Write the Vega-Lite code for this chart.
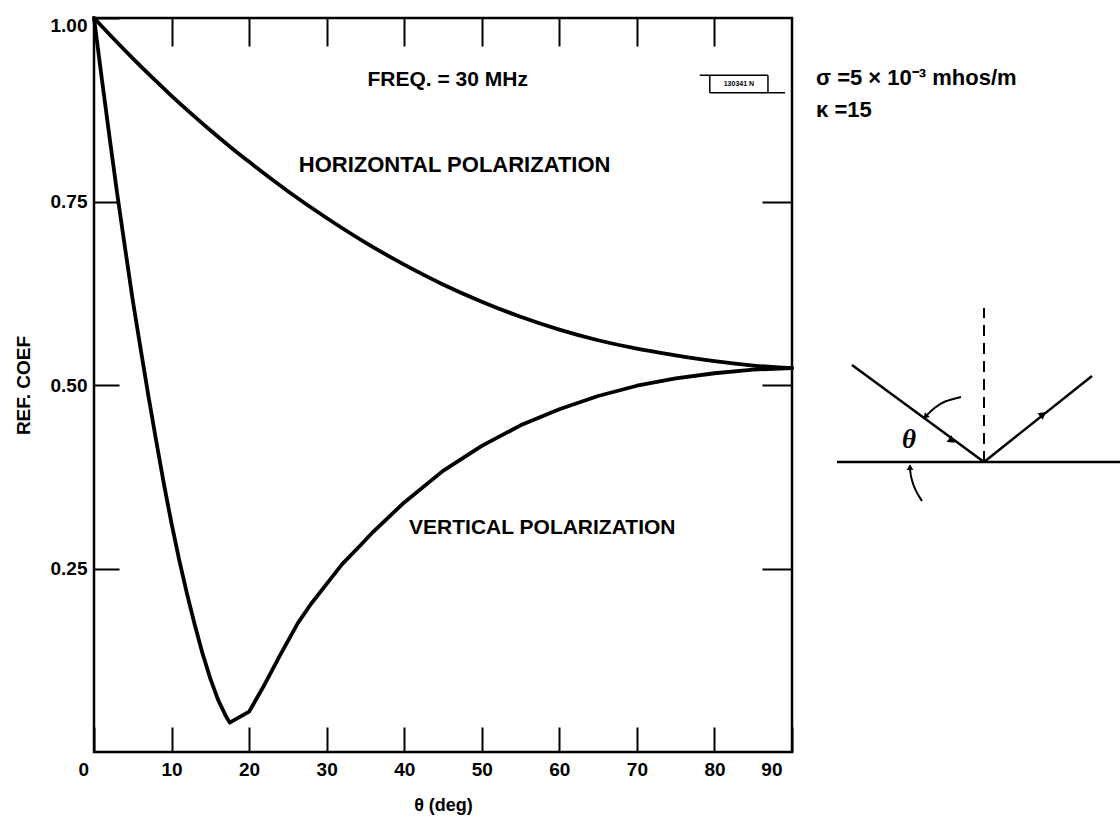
{
  "$schema": "https://vega.github.io/schema/vega-lite/v6.json",
  "padding": {"left": 12, "top": 14, "right": 0, "bottom": 0},
  "background": "white",
  "spacing": 3,
  "config": {
    "font": "Liberation Sans",
    "view": {"stroke": null},
    "axis": {"grid": false, "domain": false, "tickColor": "black", "tickWidth": 2, "labelColor": "black", "titleColor": "black", "labelFont": "Liberation Sans", "titleFont": "Liberation Sans", "labelFontWeight": "bold", "titleFontWeight": "bold"}
  },
  "datasets": {
    "curves": [
      {"pol": "H", "theta": 0, "r": 1.0},
      {"pol": "H", "theta": 2.5, "r": 0.972},
      {"pol": "H", "theta": 5, "r": 0.945},
      {"pol": "H", "theta": 7.5, "r": 0.919},
      {"pol": "H", "theta": 10, "r": 0.894},
      {"pol": "H", "theta": 12.5, "r": 0.87},
      {"pol": "H", "theta": 15, "r": 0.847},
      {"pol": "H", "theta": 17.5, "r": 0.825},
      {"pol": "H", "theta": 20, "r": 0.804},
      {"pol": "H", "theta": 25, "r": 0.764},
      {"pol": "H", "theta": 30, "r": 0.7275},
      {"pol": "H", "theta": 35, "r": 0.694},
      {"pol": "H", "theta": 40, "r": 0.664},
      {"pol": "H", "theta": 45, "r": 0.637},
      {"pol": "H", "theta": 50, "r": 0.6135},
      {"pol": "H", "theta": 55, "r": 0.593},
      {"pol": "H", "theta": 60, "r": 0.5755},
      {"pol": "H", "theta": 65, "r": 0.561},
      {"pol": "H", "theta": 70, "r": 0.5495},
      {"pol": "H", "theta": 75, "r": 0.5405},
      {"pol": "H", "theta": 80, "r": 0.5325},
      {"pol": "H", "theta": 85, "r": 0.5265},
      {"pol": "H", "theta": 90, "r": 0.523},
      {"pol": "V", "theta": 0, "r": 1.0},
      {"pol": "V", "theta": 1, "r": 0.918},
      {"pol": "V", "theta": 2, "r": 0.838},
      {"pol": "V", "theta": 3, "r": 0.76},
      {"pol": "V", "theta": 4, "r": 0.687},
      {"pol": "V", "theta": 5, "r": 0.615},
      {"pol": "V", "theta": 6, "r": 0.55},
      {"pol": "V", "theta": 7, "r": 0.486},
      {"pol": "V", "theta": 8, "r": 0.425},
      {"pol": "V", "theta": 9, "r": 0.366},
      {"pol": "V", "theta": 10, "r": 0.311},
      {"pol": "V", "theta": 11, "r": 0.261},
      {"pol": "V", "theta": 12, "r": 0.215},
      {"pol": "V", "theta": 13, "r": 0.173},
      {"pol": "V", "theta": 14, "r": 0.134},
      {"pol": "V", "theta": 15, "r": 0.1},
      {"pol": "V", "theta": 16, "r": 0.071},
      {"pol": "V", "theta": 17, "r": 0.049},
      {"pol": "V", "theta": 17.5, "r": 0.04},
      {"pol": "V", "theta": 20, "r": 0.055},
      {"pol": "V", "theta": 22, "r": 0.092},
      {"pol": "V", "theta": 24, "r": 0.132},
      {"pol": "V", "theta": 26.3, "r": 0.176},
      {"pol": "V", "theta": 28, "r": 0.202},
      {"pol": "V", "theta": 30, "r": 0.229},
      {"pol": "V", "theta": 32, "r": 0.256},
      {"pol": "V", "theta": 34.3, "r": 0.281},
      {"pol": "V", "theta": 36, "r": 0.3},
      {"pol": "V", "theta": 38, "r": 0.32},
      {"pol": "V", "theta": 40, "r": 0.34},
      {"pol": "V", "theta": 45, "r": 0.383},
      {"pol": "V", "theta": 50, "r": 0.417},
      {"pol": "V", "theta": 55, "r": 0.445},
      {"pol": "V", "theta": 60, "r": 0.467},
      {"pol": "V", "theta": 65, "r": 0.485},
      {"pol": "V", "theta": 70, "r": 0.499},
      {"pol": "V", "theta": 75, "r": 0.509},
      {"pol": "V", "theta": 80, "r": 0.516},
      {"pol": "V", "theta": 85, "r": 0.521},
      {"pol": "V", "theta": 90, "r": 0.523}
    ],
    "notes": [
      {"label": "FREQ. = 30 MHz", "theta": 45.6, "r": 0.916},
      {"label": "VERTICAL  POLARIZATION", "theta": 57.8, "r": 0.305}
    ],
    "notesH": [
      {"label": "HORIZONTAL POLARIZATION", "theta": 46.5, "r": 0.80}
    ],
    "stamp": [
      {"theta": 78.1, "theta2": 86.9, "r": 0.922, "r2": 0.922},
      {"theta": 79.4, "theta2": 89.1, "r": 0.898, "r2": 0.898},
      {"theta": 79.4, "theta2": 79.4, "r": 0.922, "r2": 0.898},
      {"theta": 86.9, "theta2": 86.9, "r": 0.922, "r2": 0.898}
    ],
    "stampText": [
      {"label": "130341 N", "theta": 83.15, "r": 0.910}
    ],
    "rays": [
      {"id": "surface", "u": 38, "u2": 322, "w": 290, "w2": 290},
      {"id": "incident", "u": 53, "u2": 185, "w": 387, "w2": 290},
      {"id": "reflected", "u": 185, "u2": 293, "w": 290, "w2": 376}
    ],
    "normal": [
      {"u": 185, "u2": 185, "w": 290, "w2": 444}
    ],
    "bends": [
      {"arc": "a", "i": 0, "u": 162, "w": 355},
      {"arc": "a", "i": 1, "u": 145, "w": 351},
      {"arc": "a", "i": 2, "u": 135, "w": 344},
      {"arc": "a", "i": 3, "u": 128, "w": 337},
      {"arc": "b", "i": 0, "u": 123, "w": 251},
      {"arc": "b", "i": 1, "u": 116, "w": 262},
      {"arc": "b", "i": 2, "u": 112, "w": 274},
      {"arc": "b", "i": 3, "u": 111, "w": 283}
    ],
    "heads": [
      {"id": "incident", "u": 152, "w": 312},
      {"id": "reflected", "u": 243, "w": 337},
      {"id": "a", "u": 127, "w": 336},
      {"id": "b", "u": 111, "w": 284}
    ],
    "params": [
      {"label": "σ =5 × 10⁻³ mhos/m", "u": 17, "w": 674},
      {"label": "κ =15", "u": 17, "w": 642}
    ],
    "angleLabel": [
      {"label": "θ", "u": 110, "w": 312}
    ]
  },
  "hconcat": [
    {
      "width": 698,
      "height": 734,
      "view": {"stroke": "black", "strokeWidth": 2.5},
      "layer": [
        {
          "data": {"name": "curves"},
          "transform": [{"filter": "datum.pol == 'H'"}],
          "mark": {"type": "line", "color": "black", "strokeWidth": 3.8, "strokeJoin": "round", "strokeCap": "round", "interpolate": "monotone"},
          "encoding": {
            "x": {
              "field": "theta", "type": "quantitative",
              "scale": {"domain": [0, 90], "nice": false, "zero": false},
              "axis": {
                "orient": "bottom",
                "values": [0, 10, 20, 30, 40, 50, 60, 70, 80, 90],
                "tickSize": -25, "labelPadding": 33, "labelFontSize": 19,
                "labelOffset": {"condition": [{"test": "datum.value == 0", "value": -16}, {"test": "datum.value == 90", "value": -10}], "value": 0},
                "title": "θ (deg)", "titleFontSize": 18, "titlePadding": 17
              }
            },
            "y": {
              "field": "r", "type": "quantitative",
              "scale": {"domain": [0, 1], "nice": false},
              "axis": {
                "orient": "left",
                "values": [0.25, 0.5, 0.75, 1],
                "format": ".2f",
                "tickSize": -25, "labelPadding": 32, "labelFontSize": 19,
                "labelOffset": {"condition": {"test": "datum.value == 1", "value": 7}, "value": 0},
                "title": "REF. COEF", "titleFontSize": 19, "titlePadding": 17
              }
            },
            "order": {"field": "theta", "type": "quantitative"}
          }
        },
        {
          "data": {"name": "curves"},
          "transform": [{"filter": "datum.pol == 'V'"}],
          "mark": {"type": "line", "color": "black", "strokeWidth": 3.8, "strokeJoin": "round", "strokeCap": "round"},
          "encoding": {
            "x": {"field": "theta", "type": "quantitative", "axis": null},
            "y": {"field": "r", "type": "quantitative", "axis": null},
            "order": {"field": "theta", "type": "quantitative"}
          }
        },
        {
          "data": {"name": "notes"},
          "mark": {"type": "text", "fontSize": 21, "fontWeight": "bold", "color": "black", "font": "Liberation Sans"},
          "encoding": {
            "x": {
              "field": "theta", "type": "quantitative",
              "axis": {"orient": "top", "values": [10, 20, 30, 40, 50, 60, 70, 80], "tickSize": -28, "labels": false, "title": null}
            },
            "y": {
              "field": "r", "type": "quantitative",
              "axis": {"orient": "right", "values": [0.25, 0.5, 0.75], "tickSize": -30, "labels": false, "title": null}
            },
            "text": {"field": "label", "type": "nominal"}
          }
        },
        {
          "data": {"name": "notesH"},
          "mark": {"type": "text", "fontSize": 22, "fontWeight": "bold", "color": "black", "font": "Liberation Sans"},
          "encoding": {
            "x": {"field": "theta", "type": "quantitative", "axis": null},
            "y": {"field": "r", "type": "quantitative", "axis": null},
            "text": {"field": "label", "type": "nominal"}
          }
        },
        {
          "data": {"name": "stamp"},
          "mark": {"type": "rule", "color": "black", "strokeWidth": 1.5},
          "encoding": {
            "x": {"field": "theta", "type": "quantitative", "axis": null},
            "x2": {"field": "theta2"},
            "y": {"field": "r", "type": "quantitative", "axis": null},
            "y2": {"field": "r2"}
          }
        },
        {
          "data": {"name": "stampText"},
          "mark": {"type": "text", "fontSize": 7, "fontWeight": "bold", "color": "black"},
          "encoding": {
            "x": {"field": "theta", "type": "quantitative", "axis": null},
            "y": {"field": "r", "type": "quantitative", "axis": null},
            "text": {"field": "label", "type": "nominal"}
          }
        }
      ]
    },
    {
      "width": 318,
      "height": 734,
      "encoding": {
        "x": {"field": "u", "type": "quantitative", "scale": {"domain": [0, 318], "nice": false, "zero": false}, "axis": null},
        "y": {"field": "w", "type": "quantitative", "scale": {"domain": [0, 734], "nice": false, "zero": false}, "axis": null}
      },
      "layer": [
        {
          "data": {"name": "rays"},
          "mark": {"type": "rule", "color": "black", "strokeWidth": 2.5},
          "encoding": {"x2": {"field": "u2"}, "y2": {"field": "w2"}}
        },
        {
          "data": {"name": "normal"},
          "mark": {"type": "rule", "color": "black", "strokeWidth": 2, "strokeDash": [11, 7]},
          "encoding": {"x2": {"field": "u2"}, "y2": {"field": "w2"}}
        },
        {
          "data": {"name": "bends"},
          "mark": {"type": "line", "color": "black", "strokeWidth": 2, "interpolate": "basis"},
          "encoding": {"detail": {"field": "arc", "type": "nominal"}, "order": {"field": "i", "type": "quantitative"}}
        },
        {
          "data": {"name": "heads"},
          "transform": [{"filter": "datum.id == 'incident'"}],
          "mark": {"type": "point", "shape": "triangle", "filled": true, "color": "black", "size": 70, "angle": 126, "opacity": 1}
        },
        {
          "data": {"name": "heads"},
          "transform": [{"filter": "datum.id == 'reflected'"}],
          "mark": {"type": "point", "shape": "triangle", "filled": true, "color": "black", "size": 70, "angle": 51, "opacity": 1}
        },
        {
          "data": {"name": "heads"},
          "transform": [{"filter": "datum.id == 'a'"}],
          "mark": {"type": "point", "shape": "triangle", "filled": true, "color": "black", "size": 45, "angle": 225, "opacity": 1}
        },
        {
          "data": {"name": "heads"},
          "transform": [{"filter": "datum.id == 'b'"}],
          "mark": {"type": "point", "shape": "triangle", "filled": true, "color": "black", "size": 45, "angle": 0, "opacity": 1}
        },
        {
          "data": {"name": "params"},
          "mark": {"type": "text", "align": "left", "baseline": "middle", "fontSize": 22, "fontWeight": "bold", "color": "black"},
          "encoding": {"text": {"field": "label", "type": "nominal"}}
        },
        {
          "data": {"name": "angleLabel"},
          "mark": {"type": "text", "align": "center", "baseline": "middle", "fontSize": 27, "fontStyle": "italic", "fontWeight": "bold", "font": "Liberation Serif", "color": "black"},
          "encoding": {"text": {"field": "label", "type": "nominal"}}
        }
      ]
    }
  ]
}
